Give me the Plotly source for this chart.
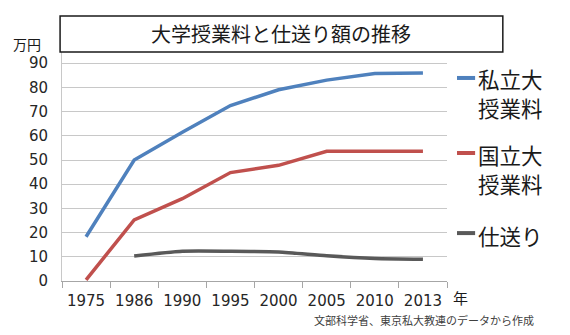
import plotly.graph_objects as go

years = ["1975", "1986", "1990", "1995", "2000", "2005", "2010", "2013"]
private_fee = [18.3, 50.0, 61.5, 72.5, 79.0, 83.0, 85.7, 86.0]
national_fee = [0.5, 25.2, 34.0, 44.8, 47.8, 53.6, 53.6, 53.6]
allowance = [None, 10.3, 12.3, 12.3, 12.0, 10.4, 9.3, 9.0]
series_labels = [["私立大", "授業料"], ["国立大", "授業料"], ["仕送り"]]
colors = ["#4F81BD", "#C0504D", "#595959"]
y_ticks = [0, 10, 20, 30, 40, 50, 60, 70, 80, 90]

CJK = "Noto Sans CJK JP"
NUM = "DejaVu Sans, Noto Sans CJK JP"

fig = go.Figure()
for vals, lab, col, shape in [(private_fee, series_labels[0], colors[0], "linear"),
                              (national_fee, series_labels[1], colors[1], "linear"),
                              (allowance, series_labels[2], colors[2], "spline")]:
    fig.add_trace(go.Scatter(x=years, y=vals, mode="lines", name="".join(lab),
                             line=dict(color=col, width=3.5, shape=shape, smoothing=0.6),
                             showlegend=False, hoverinfo="skip"))

fig.update_layout(
    width=570, height=335,
    margin=dict(l=62, r=123, t=39, b=54, autoexpand=False),
    paper_bgcolor="white", plot_bgcolor="white",
    xaxis=dict(type="category", range=[-0.5, len(years) - 0.5], showgrid=False, showline=True,
               linecolor="#a6a6a6", linewidth=1, automargin=False, tickangle=0,
               ticks="outside", tickson="boundaries", ticklen=6, tickcolor="#a6a6a6",
               tickfont=dict(family=NUM, size=15, color="#262626"), ticklabelstandoff=6),
    yaxis=dict(range=[0, 100], tickvals=y_ticks, showgrid=True, gridcolor="#c8c8c8", gridwidth=1,
               showline=True, linecolor="#c8c8c8", zeroline=False, ticks="", automargin=False,
               tickfont=dict(family=NUM, size=15, color="#262626"), ticklabelstandoff=10),
)

# title box
fig.add_shape(type="rect", xref="paper", yref="paper", x0=-0.005, x1=1.145, y0=0.946, y1=1.095,
              line=dict(color="#1a1a1a", width=1.5), fillcolor="white", layer="above")
fig.add_annotation(text="大学授業料と仕送り額の推移", xref="paper", yref="paper", x=0.569, y=1.021,
                   showarrow=False, font=dict(family=CJK, size=20, color="#1a1a1a"),
                   xanchor="center", yanchor="middle")

# legend-like labels
legend_text_y = [[0.835, 0.719], [0.521, 0.401], [0.190]]
legend_line_y = [0.839, 0.529, 0.198]
for lab, col, tys, ly in zip(series_labels, colors, legend_text_y, legend_line_y):
    fig.add_shape(type="line", xref="paper", yref="paper", x0=1.026, x1=1.073, y0=ly, y1=ly,
                  line=dict(color=col, width=4))
    for line_text, ty in zip(lab, tys):
        fig.add_annotation(text=line_text, xref="paper", yref="paper", x=1.076, y=ty, showarrow=False,
                           xanchor="left", yanchor="middle", align="left",
                           font=dict(family=CJK, size=21.5, color="#1a1a1a"))

fig.add_annotation(text="万円", xref="paper", yref="paper", x=-0.091, y=0.979, showarrow=False,
                   xanchor="center", yanchor="middle", font=dict(family=CJK, size=14, color="#1a1a1a"))
fig.add_annotation(text="年", xref="paper", yref="paper", x=1.034, y=-0.07, showarrow=False,
                   xanchor="center", yanchor="middle", font=dict(family=CJK, size=15, color="#1a1a1a"))
fig.add_annotation(text="文部科学省、東京私大教連のデータから作成", xref="paper", yref="paper",
                   x=1.23, y=-0.16, showarrow=False, xanchor="right", yanchor="middle",
                   font=dict(family=CJK, size=11, color="#404040"))

fig.write_html("out.html")
